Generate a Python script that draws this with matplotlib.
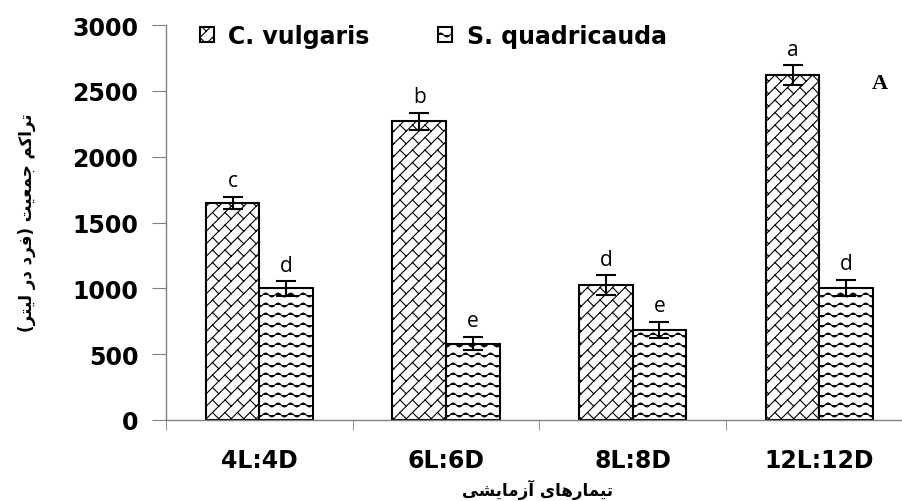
import numpy as np
import matplotlib
matplotlib.use('Agg')
from matplotlib import pyplot as plt
import matplotlib.hatch as mhatch
from matplotlib.path import Path

# Population density by light:dark treatment
treatments = ['4L:4D', '6L:6D', '8L:8D', '12L:12D']
c_vulgaris = [1650, 2270, 1025, 2620]
c_vulgaris_err = [45, 65, 75, 75]
s_quadricauda = [1000, 580, 685, 1005]
s_quadricauda_err = [55, 50, 60, 60]
c_letters = ['c', 'b', 'd', 'a']
s_letters = ['d', 'e', 'e', 'd']

# matplotlib does no arabic shaping, so the persian labels are written
# with presentation forms in visual (left to right) order
# ylabel: تراکم جمعیت (فرد در لیتر)
ylabel_fa = ('(\ufeae\ufe98\ufef4\ufedf \ufead\ufea9 \ufea9\ufeae\ufed3) '
             '\ufe96\ufef4\ufecc\ufee4\ufe9f \ufee2\ufb90\ufe8d\ufeae\ufe97')
# xlabel: تیمارهای آزمایشی
xlabel_fa = ('\ufbfd\ufeb8\ufef3\ufe8e\ufee3\ufeaf\ufe81 '
             '\ufbfc\ufe8e\ufeeb\ufead\ufe8e\ufee4\ufef4\ufe97')


# wavy rows instead of the straight '-' hatch
class WavyHatch(mhatch.HatchPatternBase):
    def __init__(self, hatch, density):
        self.num_lines = int(hatch.count('-') * density * 5 / 6)
        self.points = 65
        self.num_vertices = self.num_lines * self.points

    def set_vertices_and_codes(self, vertices, codes):
        steps, stepsize = np.linspace(0.0, 1.0, self.num_lines, False, retstep=True)
        steps += stepsize / 2.
        xs = np.linspace(0.0, 1.0, self.points)
        wave = 0.2 * stepsize * np.sin(2 * np.pi * 8 * xs)
        for i, y in enumerate(steps):
            a, b = i * self.points, (i + 1) * self.points
            vertices[a:b, 0] = xs
            vertices[a:b, 1] = y + wave
            codes[a] = Path.MOVETO
            codes[a + 1:b] = Path.LINETO


# 'X' gives diagonal bricks: long '/' lines joined by short '\' ticks;
# ticks sit at the same steps in every gap, which staggers them
class BrickHatch(mhatch.HatchPatternBase):
    def __init__(self, hatch, density):
        self.m = 8 if 'X' in hatch else 0
        self.p = 8
        self.ks = np.arange(-self.m - 1, self.m + 2)
        self.ts = np.arange(-self.p, 2 * self.p + 1) / self.p
        if self.m:
            self.num_vertices = 2 * len(self.ks) + 2 * len(self.ks) * len(self.ts)
        else:
            self.num_vertices = 0

    def set_vertices_and_codes(self, vertices, codes):
        m = self.m
        i = 0
        for k in self.ks:
            vertices[i] = (-1, -1 + k / m)
            vertices[i + 1] = (2, 2 + k / m)
            codes[i], codes[i + 1] = Path.MOVETO, Path.LINETO
            i += 2
        for k in self.ks:
            for t in self.ts:
                vertices[i] = (t, t + k / m)
                vertices[i + 1] = (t + 1 / (2 * m), t + k / m - 1 / (2 * m))
                codes[i], codes[i + 1] = Path.MOVETO, Path.LINETO
                i += 2


class NoXNorthEast(mhatch.NorthEastHatch):
    def __init__(self, hatch, density):
        super().__init__(hatch.replace('X', ''), density)


class NoXSouthEast(mhatch.SouthEastHatch):
    def __init__(self, hatch, density):
        super().__init__(hatch.replace('X', ''), density)


swap = {mhatch.HorizontalHatch: WavyHatch,
        mhatch.NorthEastHatch: NoXNorthEast,
        mhatch.SouthEastHatch: NoXSouthEast}
mhatch._hatch_types = [swap.get(t, t) for t in mhatch._hatch_types] + [BrickHatch]

plt.rcParams['hatch.linewidth'] = 0.8
plt.rcParams['hatch.color'] = 'black'

fig = plt.figure(figsize=(9.03, 5.02), dpi=100)
ax = fig.add_axes([166 / 903, 81 / 502, 746.7 / 903, 395 / 502])

x = np.arange(len(treatments)) + 0.5
w = 0.287

bars1 = ax.bar(x - w / 2, c_vulgaris, w, color='white', edgecolor='black',
               linewidth=1.5, hatch='X', label='C. vulgaris')
bars2 = ax.bar(x + w / 2, s_quadricauda, w, color='white', edgecolor='black',
               linewidth=1.5, hatch='--', label='S. quadricauda')

ax.errorbar(x - w / 2, c_vulgaris, yerr=c_vulgaris_err, fmt='none',
            ecolor='black', elinewidth=1.5, capsize=7.5, capthick=1.5)
ax.errorbar(x + w / 2, s_quadricauda, yerr=s_quadricauda_err, fmt='none',
            ecolor='black', elinewidth=1.5, capsize=7.5, capthick=1.5)

for xi, v, e, t in zip(x - w / 2, c_vulgaris, c_vulgaris_err, c_letters):
    ax.annotate(t, (xi, v + e), xytext=(0, 4), textcoords='offset points',
                ha='center', va='bottom', fontsize=15, family='Open Sans')
for xi, v, e, t in zip(x + w / 2, s_quadricauda, s_quadricauda_err, s_letters):
    ax.annotate(t, (xi, v + e), xytext=(0, 4), textcoords='offset points',
                ha='center', va='bottom', fontsize=15, family='Open Sans')

ax.set_xlim(0, 4)
ax.set_ylim(0, 3000)
ax.set_yticks(range(0, 3001, 500))
ax.set_xticks(x)
ax.set_xticklabels(treatments)
ax.set_xticks(np.arange(0, 5), minor=True)
ax.tick_params(axis='x', which='major', length=0, pad=20)
ax.tick_params(axis='x', which='minor', length=7, color='#808080', direction='out')
ax.tick_params(axis='y', length=10, color='#808080', direction='out', pad=10)
for lab in ax.get_xticklabels() + ax.get_yticklabels():
    lab.set_fontsize(17)
    lab.set_fontweight('bold')
    lab.set_family('DejaVu Sans')

for s in ['top', 'right']:
    ax.spines[s].set_visible(False)
for s in ['left', 'bottom']:
    ax.spines[s].set_color('#808080')
    ax.spines[s].set_linewidth(1)

fig.text(27 / 903, 1 - 223 / 502, ylabel_fa, rotation=90, ha='center',
         va='center', fontsize=12, fontweight='bold', family='DejaVu Sans')
fig.text(538 / 903, 1 - 490 / 502, xlabel_fa, ha='center', va='center',
         fontsize=12, fontweight='bold', family='DejaVu Sans')

fig.text(880 / 903, 1 - 84 / 502, 'A', ha='center', va='center', fontsize=16,
         fontweight='bold', family='Liberation Serif')

fig.legend(loc='center left', bbox_to_anchor=(200 / 903, 1 - 37 / 502),
           ncol=2, frameon=False, borderpad=0, borderaxespad=0,
           handlelength=0.6, handleheight=0.6, handletextpad=0.6,
           columnspacing=2.9, prop={'family': 'DejaVu Sans', 'weight': 'bold', 'size': 17})

plt.savefig('out.png', dpi=100)
